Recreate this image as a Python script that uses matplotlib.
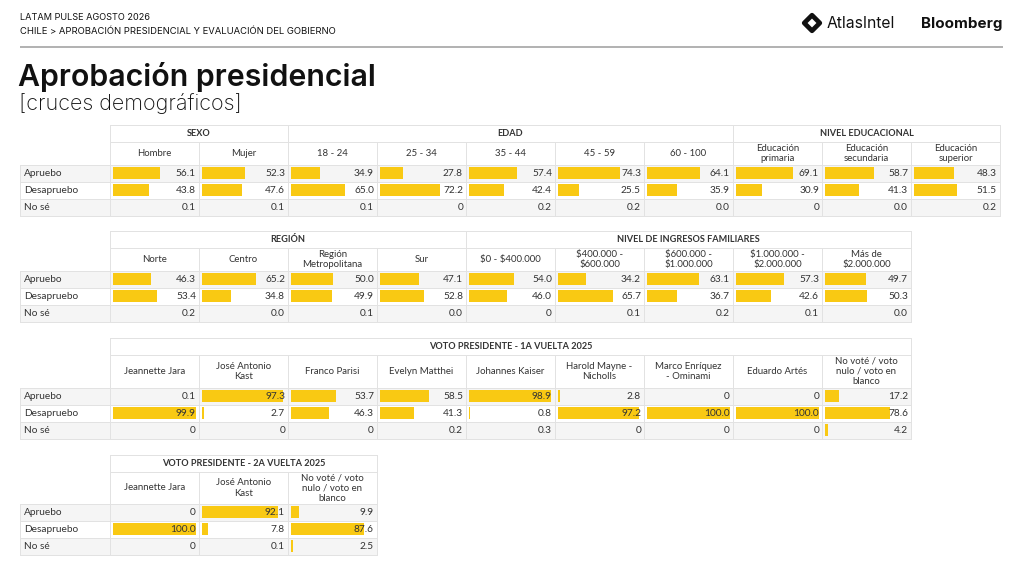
import matplotlib
matplotlib.use("Agg")
import matplotlib.pyplot as plt
from matplotlib.patches import Rectangle
import matplotlib.transforms as mtransforms

# ---------------- data ----------------
row_labels = ["Apruebo", "Desapruebo", "No sé"]

# Table 1
t1_groups = ["SEXO", "EDAD", "NIVEL EDUCACIONAL"]
t1_group_sizes = [2, 5, 3]
t1_cols = ["Hombre", "Mujer", "18 - 24", "25 - 34", "35 - 44", "45 - 59", "60 - 100",
           "Educación\nprimaria", "Educación\nsecundaria", "Educación\nsuperior"]
t1_apruebo = ["56.1", "52.3", "34.9", "27.8", "57.4", "74.3", "64.1", "69.1", "58.7", "48.3"]
t1_desapruebo = ["43.8", "47.6", "65.0", "72.2", "42.4", "25.5", "35.9", "30.9", "41.3", "51.5"]
t1_nose = ["0.1", "0.1", "0.1", "0", "0.2", "0.2", "0.0", "0", "0.0", "0.2"]

# Table 2
t2_groups = ["REGIÓN", "NIVEL DE INGRESOS FAMILIARES"]
t2_group_sizes = [4, 5]
t2_cols = ["Norte", "Centro", "Región\nMetropolitana", "Sur", "$0 - $400.000",
           "$400.000 -\n$600.000", "$600.000 -\n$1.000.000", "$1.000.000 -\n$2.000.000",
           "Más de\n$2.000.000"]
t2_apruebo = ["46.3", "65.2", "50.0", "47.1", "54.0", "34.2", "63.1", "57.3", "49.7"]
t2_desapruebo = ["53.4", "34.8", "49.9", "52.8", "46.0", "65.7", "36.7", "42.6", "50.3"]
t2_nose = ["0.2", "0.0", "0.1", "0.0", "0", "0.1", "0.2", "0.1", "0.0"]

# Table 3
t3_groups = ["VOTO PRESIDENTE - 1A VUELTA 2025"]
t3_group_sizes = [9]
t3_cols = ["Jeannette Jara", "José Antonio\nKast", "Franco Parisi", "Evelyn Matthei",
           "Johannes Kaiser", "Harold Mayne -\nNicholls", "Marco Enríquez\n- Ominami",
           "Eduardo Artés", "No voté / voto\nnulo / voto en\nblanco"]
t3_apruebo = ["0.1", "97.3", "53.7", "58.5", "98.9", "2.8", "0", "0", "17.2"]
t3_desapruebo = ["99.9", "2.7", "46.3", "41.3", "0.8", "97.2", "100.0", "100.0", "78.6"]
t3_nose = ["0", "0", "0", "0.2", "0.3", "0", "0", "0", "4.2"]

# Table 4
t4_groups = ["VOTO PRESIDENTE - 2A VUELTA 2025"]
t4_group_sizes = [3]
t4_cols = ["Jeannette Jara", "José Antonio\nKast", "No voté / voto\nnulo / voto en\nblanco"]
t4_apruebo = ["0", "92.1", "9.9"]
t4_desapruebo = ["100.0", "7.8", "87.6"]
t4_nose = ["0", "0.1", "2.5"]

# ---------------- style ----------------
YELLOW = "#F9C913"
TEXT = "#333333"
GRID = "#e2e2e2"
SHADE = "#f5f5f5"
TFONT = "Lato"

fig = plt.figure(figsize=(10.24, 5.76), dpi=100)
ax = fig.add_axes([0, 0, 1, 1])
ax.set_xlim(0, 1024)
ax.set_ylim(576, 0)
ax.axis("off")

PX = 0.72  # points per pixel

# ---------------- header ----------------
ax.text(20, 18, "LATAM PULSE AGOSTO 2026", fontsize=6.6, family="Inter", color="#111",
        va="center", ha="left")
ax.text(20, 32, "CHILE > APROBACIÓN PRESIDENCIAL Y EVALUACIÓN DEL GOBIERNO", fontsize=6.8,
        family="Inter", color="#111", va="center", ha="left")
ax.plot([20, 1003], [47, 47], color="#b3b3b3", lw=2 * PX, solid_capstyle="butt")

# AtlasIntel logo: diamond
diamond = Rectangle((-5.5, -5.5), 11, 11, facecolor="white", edgecolor="#111",
                    lw=3.4, joinstyle="round")
tr = mtransforms.Affine2D().rotate_deg(45).translate(812, 23) + ax.transData
diamond.set_transform(tr)
ax.add_patch(diamond)
ax.text(827, 24, "AtlasIntel", fontsize=11.3, family="Inter", color="#111",
        va="center", ha="left")
ax.text(1003, 24, "Bloomberg", fontsize=10.9, family="Inter", weight="bold",
        color="#111", va="center", ha="right")

ax.text(18, 77, "Aprobación presidencial", fontsize=21.8, family="Inter", weight="semibold",
        color="#111", va="center", ha="left")
ax.text(19, 104, "[cruces demográficos]", fontsize=15.5, family="Inter", weight="light",
        color="#111", va="center", ha="left")

# ---------------- tables ----------------
LX0, CX0, CW = 20, 110, 89
GH, RH = 16.5, 17


def draw_table(top, sub_h, groups, group_sizes, cols, apr, des, nos):
    ncols = len(cols)
    xend = CX0 + CW * ncols
    sub_top = top + GH
    data_top = sub_top + sub_h
    bottom = data_top + 3 * RH
    rows = [apr, des, nos]

    # shading
    for i in (0, 2):
        ax.add_patch(Rectangle((LX0, data_top + i * RH), xend - LX0, RH,
                               facecolor=SHADE, edgecolor="none", zorder=0))

    # bars
    for i, vals in enumerate(rows):
        yc = data_top + (i + 0.5) * RH
        nums = [float(v) for v in vals]
        lefts = [CX0 + CW * j + 3 for j in range(ncols)]
        ax.barh([yc] * ncols, [n / 100 * (CW - 6) for n in nums], left=lefts,
                height=11.5, color=YELLOW, zorder=2, linewidth=0)
        for j, v in enumerate(vals):
            ax.text(CX0 + CW * (j + 1) - 3, yc + 0.5, v, fontsize=7.3, family=TFONT,
                    color=TEXT, ha="right", va="center", zorder=3, parse_math=False)
        ax.text(LX0 + 4, yc + 0.5, row_labels[i], fontsize=7.3, family=TFONT, color=TEXT,
                ha="left", va="center", zorder=3)

    lw = 1.0 * PX
    # horizontal lines
    for y in (top, sub_top):
        ax.plot([CX0, xend], [y, y], color=GRID, lw=lw, zorder=1)
    for k in range(4):
        y = data_top + k * RH
        ax.plot([LX0, xend], [y, y], color=GRID, lw=lw, zorder=1)
    # vertical lines
    ax.plot([LX0, LX0], [data_top, bottom], color=GRID, lw=lw, zorder=1)
    ax.plot([CX0, CX0], [top, bottom], color=GRID, lw=lw, zorder=1)
    for j in range(1, ncols + 1):
        ax.plot([CX0 + CW * j] * 2, [sub_top, bottom], color=GRID, lw=lw, zorder=1)
    acc = 0
    for g, n in zip(groups, group_sizes):
        gx0 = CX0 + CW * acc
        acc += n
        gx1 = CX0 + CW * acc
        ax.plot([gx1, gx1], [top, bottom], color=GRID, lw=lw, zorder=1)
        ax.text((gx0 + gx1) / 2, top + GH / 2 + 0.5, g, fontsize=6.6, family=TFONT,
                weight="bold", color=TEXT, ha="center", va="center", parse_math=False)
    for j, c in enumerate(cols):
        ax.text(CX0 + CW * (j + 0.5), sub_top + sub_h / 2 + 0.5, c, fontsize=6.9,
                family=TFONT, color=TEXT, ha="center", va="center",
                linespacing=1.15, parse_math=False)


draw_table(125, 23, t1_groups, t1_group_sizes, t1_cols, t1_apruebo, t1_desapruebo, t1_nose)
draw_table(231, 23, t2_groups, t2_group_sizes, t2_cols, t2_apruebo, t2_desapruebo, t2_nose)
draw_table(338, 33, t3_groups, t3_group_sizes, t3_cols, t3_apruebo, t3_desapruebo, t3_nose)
draw_table(455, 32, t4_groups, t4_group_sizes, t4_cols, t4_apruebo, t4_desapruebo, t4_nose)

fig.savefig("out.png", dpi=100)
